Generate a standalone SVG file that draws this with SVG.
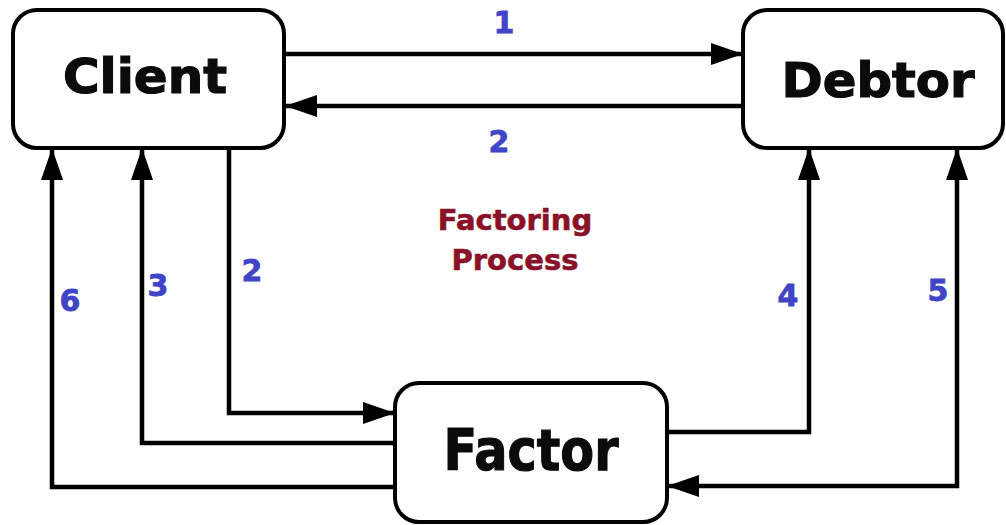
<svg xmlns="http://www.w3.org/2000/svg" width="1006" height="525" viewBox="0 0 1006 525">
<style>
.box{fill:#fff;stroke:#000;stroke-width:4}
.node{font-family:"DejaVu Sans",Verdana,sans-serif;font-weight:bold;fill:#0b0b0b;stroke:#0b0b0b;stroke-width:1.2;text-anchor:middle}
.conn{fill:none;stroke:#000;stroke-width:4.5}
.num{font-family:"DejaVu Sans",Verdana,sans-serif;font-weight:bold;font-size:30px;fill:#3f45c6;stroke:#3f45c6;stroke-width:0.8;text-anchor:middle}
.title{font-family:"DejaVu Sans",Verdana,sans-serif;font-weight:bold;font-size:29px;fill:#8a1228;stroke:#8a1228;stroke-width:0.6;text-anchor:middle}
</style>
<defs>
<marker id="ah" markerUnits="userSpaceOnUse" markerWidth="32" markerHeight="22" refX="31" refY="11" orient="auto" viewBox="0 0 32 22">
<path d="M0,0 L32,11 L0,22 z" fill="#000"/>
</marker>
<marker id="ahs" markerUnits="userSpaceOnUse" markerWidth="32" markerHeight="22" refX="31" refY="11" orient="auto-start-reverse" viewBox="0 0 32 22">
<path d="M0,0 L32,11 L0,22 z" fill="#000"/>
</marker>
</defs>
<rect width="1006" height="525" fill="#fff"/>
<g id="connectors">
<path class="conn" d="M284,54 H742" marker-end="url(#ah)"/>
<path class="conn" d="M743,106 H286" marker-end="url(#ah)"/>
<path class="conn" d="M229,148 V413 H394" marker-end="url(#ah)"/>
<path class="conn" d="M395,443 H142 V149" marker-end="url(#ah)"/>
<path class="conn" d="M395,487 H52 V149" marker-end="url(#ah)"/>
<path class="conn" d="M667,432 H809 V149" marker-end="url(#ah)"/>
<path class="conn" d="M957,149 V486 H668" marker-start="url(#ahs)" marker-end="url(#ah)"/>
</g>
<g id="client">
<rect class="box" x="13" y="10" width="271" height="138" rx="24"/>
<text class="node" x="145" y="93" font-size="48" textLength="164" lengthAdjust="spacingAndGlyphs">Client</text>
</g>
<g id="debtor">
<rect class="box" x="743" y="10" width="260" height="138" rx="24"/>
<text class="node" x="878" y="97" font-size="48" textLength="193" lengthAdjust="spacingAndGlyphs">Debtor</text>
</g>
<g id="factor">
<rect class="box" x="395" y="383" width="272" height="139" rx="24"/>
<text class="node" x="531" y="470" font-size="57" textLength="175" lengthAdjust="spacingAndGlyphs">Factor</text>
</g>
<g id="labels">
<text class="num" x="504" y="33">1</text>
<text class="num" x="499" y="152">2</text>
<text class="num" x="252" y="281">2</text>
<text class="num" x="158" y="296">3</text>
<text class="num" x="70" y="311">6</text>
<text class="num" x="788" y="306">4</text>
<text class="num" x="938" y="301">5</text>
<text class="title" x="515" y="230">Factoring</text>
<text class="title" x="515" y="270">Process</text>
</g>
</svg>
